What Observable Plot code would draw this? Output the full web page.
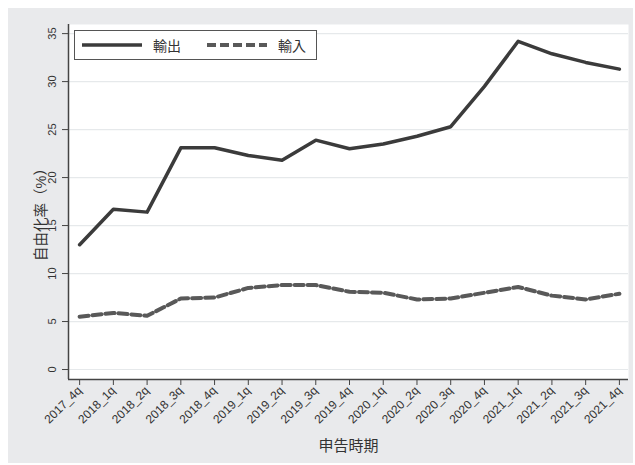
<!DOCTYPE html>
<html>
<head>
<meta charset="utf-8">
<script src="https://cdn.jsdelivr.net/npm/d3@7"></script>
<script src="https://cdn.jsdelivr.net/npm/@observablehq/plot@0.6"></script>
<style>
  html, body { margin: 0; padding: 0; background: #fff; }
  body { width: 635px; height: 465px; position: relative; overflow: hidden;
         font-family: "Liberation Sans", "Noto Sans CJK JP", sans-serif; color: #333; }
  #bg { position: absolute; left: 8px; top: 8px; width: 625px; height: 455px; background: #e9eaec; }
  #chart { position: absolute; left: 0; top: 0; }
  #legend { position: absolute; left: 74px; top: 30px; width: 241px; height: 28px;
            border: 1px solid #555; background: #fff; }
  #legend .item { position: absolute; top: 0; height: 28px; display: flex; align-items: center; }
  #legend .item span { font-size: 14px; color: #333; margin-left: 11px; }
</style>
</head>
<body>
<div id="bg"></div>
<div id="chart"></div>
<div id="legend"></div>
<script>
// Quarterly liberalisation rates (%), export vs import
const quarters = ["2017_4q","2018_1q","2018_2q","2018_3q","2018_4q","2019_1q","2019_2q","2019_3q","2019_4q",
                  "2020_1q","2020_2q","2020_3q","2020_4q","2021_1q","2021_2q","2021_3q","2021_4q"];
const exportRate = [13.0,16.7,16.4,23.1,23.1,22.3,21.8,23.9,23.0,23.5,24.3,25.3,29.5,34.2,32.9,32.0,31.3];
const importRate = [5.5,5.9,5.6,7.4,7.5,8.5,8.8,8.8,8.1,8.0,7.3,7.4,8.0,8.6,7.7,7.3,7.9];
const yTicks = [0,5,10,15,20,25,30,35];
const seriesNames = ["輸出","輸入"];

const exportColor = "#3b3b3b", importColor = "#595959";
const importDash = "9,4";

const rows = quarters.map((q, i) => ({i, q, exp: exportRate[i], imp: importRate[i]}));
const xDomain = [-0.33, quarters.length - 1 + 0.27];
const yDomain = [-1.04, 35.95];

const chart = Plot.plot({
  width: 635,
  height: 465,
  marginLeft: 68,
  marginRight: 7,
  marginTop: 24,
  marginBottom: 86,
  style: {background: "transparent", fontFamily: "Liberation Sans, Noto Sans CJK JP, sans-serif", fontSize: "11px", color: "#333"},
  x: {domain: xDomain},
  y: {domain: yDomain},
  marks: [
    Plot.frame({fill: "#fff", stroke: null}),
    Plot.gridY(yTicks, {stroke: "#e6e9eb", strokeOpacity: 1, strokeWidth: 1.2}),
    // y ticks; their labels are drawn rotated below
    Plot.axisY(yTicks, {tickSize: 6, tickFormat: () => "", label: null, stroke: "#444"}),
    Plot.text(yTicks, {x: xDomain[0], y: d => d, text: d => String(d), rotate: -90, dx: -16,
      textAnchor: "middle", lineAnchor: "middle", fontSize: 11, fill: "#333"}),
    Plot.axisX(d3.range(quarters.length), {tickSize: 6, tickPadding: 3, tickRotate: -45, label: null,
      tickFormat: i => quarters[i], stroke: "#444", fill: "#333", fontSize: 12}),
    Plot.ruleX([xDomain[0]], {stroke: "#444", strokeWidth: 1.5}),
    Plot.ruleY([yDomain[0]], {stroke: "#444", strokeWidth: 1.5}),
    Plot.line(rows, {x: "i", y: "imp", stroke: importColor, strokeWidth: 4, strokeDasharray: importDash}),
    Plot.line(rows, {x: "i", y: "exp", stroke: exportColor, strokeWidth: 3.5}),
    Plot.text(["自由化率（%）"], {frameAnchor: "left", textAnchor: "middle", lineAnchor: "middle",
      rotate: -90, dx: -27, dy: 9, fontSize: 14.5, fill: "#333"}),
    Plot.text(["申告時期"], {frameAnchor: "bottom", lineAnchor: "middle", dy: 67, fontSize: 15, fill: "#333"})
  ]
});
document.getElementById("chart").appendChild(chart);

// Legend box inside the plot area
const legend = document.getElementById("legend");
const items = [
  {name: seriesNames[0], color: exportColor, dash: null, width: 3.5, left: 7},
  {name: seriesNames[1], color: importColor, dash: importDash, width: 4, left: 132}
];
for (const it of items) {
  const div = document.createElement("div");
  div.className = "item";
  div.style.left = it.left + "px";
  div.innerHTML = `<svg width="60" height="10"><line x1="0" y1="5" x2="60" y2="5" stroke="${it.color}" stroke-width="${it.width}"${it.dash ? ` stroke-dasharray="${it.dash}"` : ""}/></svg><span>${it.name}</span>`;
  legend.appendChild(div);
}
</script>
</body>
</html>
